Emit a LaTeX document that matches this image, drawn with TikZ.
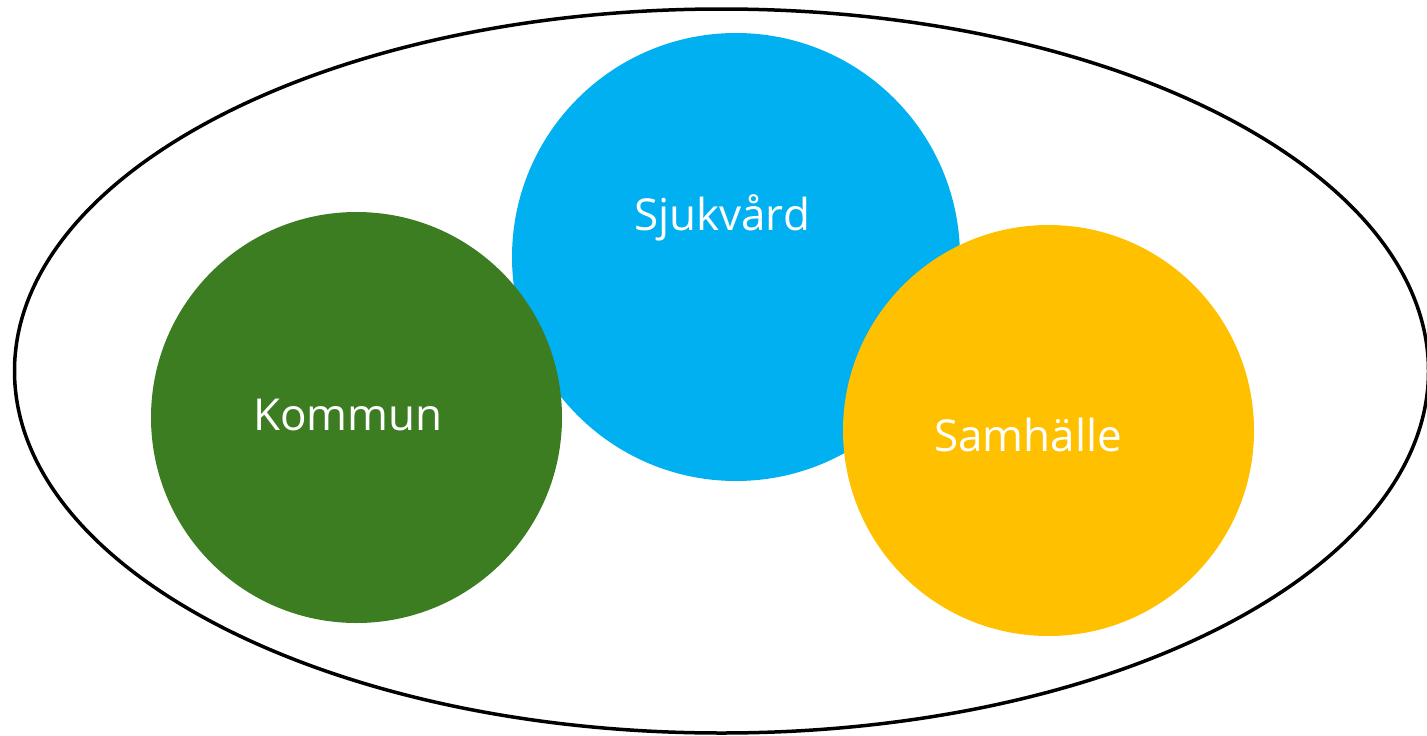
\documentclass[tikz,border=0pt]{standalone}
\usepackage{fontspec}
\setmainfont{Open Sans}
\usetikzlibrary{shapes.geometric}
\definecolor{cblue}{HTML}{00B0F0}
\definecolor{cgreen}{HTML}{3C7D22}
\definecolor{cyellow}{HTML}{FFC000}
\begin{document}
\begin{tikzpicture}[x=1pt,y=-1pt,
  blob/.style={circle,inner sep=0pt,draw=none},
  lbl/.style={text=white,font=\fontsize{44}{52}\selectfont,inner sep=0pt}]
\useasboundingbox (0,0) rectangle (1427,736);
\node[draw=black,line width=3.5pt,ellipse,minimum width=1414pt,minimum height=724pt,inner sep=0pt] (outer) at (721.5,371) {};
\node[blob,fill=cblue,minimum size=448pt] (blue) at (736,257) {};
\node[blob,fill=cgreen,minimum size=411pt] (green) at (356.5,417.5) {};
\node[blob,fill=cyellow,minimum size=411pt] (yellow) at (1048.5,430.5) {};
\node[lbl] (t1) at (722,218) {Sjukvård};
\node[lbl] (t2) at (348,415) {Kommun};
\node[lbl] (t3) at (1028,435) {Samhälle};
\end{tikzpicture}
\end{document}
